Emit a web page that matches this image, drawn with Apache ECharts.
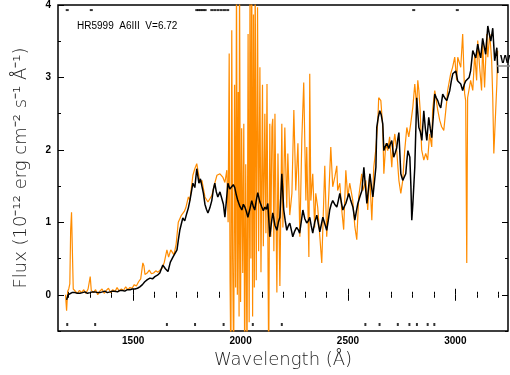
<!DOCTYPE html>
<html>
<head>
<meta charset="utf-8">
<script src="https://cdn.jsdelivr.net/npm/echarts/dist/echarts.min.js"></script>
<style>
html, body { margin: 0; padding: 0; background: #fff; }
#main { width: 510px; height: 375px; }
</style>
</head>
<body>
<div id="main"></div>
<script>
// black spectrum (wavelength in Angstrom, flux in 1e-12 erg/cm2/s/A)
var blackWave = [1190,1197,1205,1215,1229,1240,1252,1264,1275,1287,1299,1310,1322,1334,1345,1357,1368,1380,1392,1403,
  1415,1427,1438,1450,1461,1473,1485,1496,1508,1520,1531,1543,1554,1566,1578,1590,1601,1613,1624,1638,
  1650,1662,1673,1685,1694,1704,1710,1717,1731,1740,1750,1757,1764,1771,1778,1787,1796,1806,1813,1820,
  1827,1834,1841,1848,1857,1866,1873,1880,1887,1894,1904,1913,1920,1927,1934,1941,1950,1959,1966,1973,
  1980,1987,1997,2006,2013,2020,2027,2034,2043,2052,2059,2066,2073,2080,2090,2099,2106,2113,2120,2127,
  2136,2143,2150,2160,2169,2176,2183,2192,2201,2208,2215,2222,2229,2236,2243,2252,2261,2268,2275,2282,
  2290,2299,2308,2315,2322,2329,2336,2345,2355,2362,2369,2376,2383,2392,2401,2408,2415,2422,2429,2438,
  2448,2455,2462,2469,2476,2483,2490,2497,2504,2513,2523,2532,2539,2546,2555,2565,2574,2581,2588,2595,
  2602,2609,2616,2623,2630,2634,2641,2648,2655,2662,2667,2674,2681,2690,2697,2704,2713,2720,2727,2732,
  2737,2746,2755,2762,2769,2774,2779,2788,2793,2797,2802,2811,2820,2830,2837,2844,2853,2860,2867,2876,
  2883,2890,2897,2904,2911,2918,2925,2932,2941,2950,2960,2967,2974,2981,2988,2995,3002,3011,3018,3025,
  3034,3041,3048,3057,3064,3071,3081,3088,3095,3104,3111,3118,3127,3134,3141,3151,3158,3165,3174,3183,
  3193,3198];
var blackFlux = [-0.07,0.0,0.02,0.03,0.03,0.02,0.02,0.03,0.04,0.02,0.03,0.04,0.04,0.03,0.03,0.04,0.05,0.03,0.04,0.05,
  0.05,0.04,0.06,0.06,0.05,0.07,0.07,0.08,0.08,0.09,0.11,0.14,0.18,0.21,0.23,0.22,0.25,0.27,0.30,0.41,
  0.36,0.32,0.45,0.52,0.50,0.62,0.75,0.89,1.06,1.02,1.13,1.20,1.30,1.28,1.54,1.48,1.74,1.54,1.60,1.62,
  1.40,1.25,1.18,1.13,1.20,1.30,1.45,1.54,1.42,1.35,1.42,1.40,1.25,1.07,1.30,1.54,1.46,1.44,1.52,1.48,
  1.38,1.30,1.22,1.17,1.25,1.21,1.15,1.07,1.18,1.30,1.22,1.17,1.30,1.41,1.28,1.21,1.16,1.21,1.18,1.26,
  0.80,0.98,1.13,0.96,0.89,1.00,1.07,1.67,1.17,1.02,0.89,0.95,0.99,0.90,0.80,0.88,0.93,0.90,0.85,1.00,
  1.17,1.05,0.99,1.02,1.07,0.95,0.85,1.00,1.10,0.98,0.87,0.97,1.07,0.98,0.89,1.02,1.17,1.25,1.30,1.25,
  1.21,1.30,1.40,1.28,1.17,1.22,1.26,1.33,1.40,1.30,1.21,1.03,1.15,1.26,1.35,1.44,1.76,1.50,1.26,1.45,
  1.67,1.50,1.35,1.55,1.76,2.31,2.45,2.54,2.48,2.36,1.99,2.05,2.09,2.02,2.08,2.13,1.90,1.96,2.03,2.15,
  2.24,1.67,1.58,1.60,1.67,1.85,1.99,1.90,1.50,1.03,1.25,1.76,2.72,2.31,2.25,2.13,2.54,2.30,2.13,2.45,
  2.30,2.17,2.45,2.77,2.72,2.68,2.62,2.58,2.77,2.72,2.68,2.75,2.82,2.95,3.05,3.07,3.09,2.95,2.93,2.91,
  2.82,2.90,2.95,2.93,3.00,3.09,3.37,3.32,3.27,3.46,3.35,3.27,3.54,3.43,3.32,3.71,3.60,3.50,3.68,3.23,
  3.41,3.06];

// orange spectrum
var orangeWave = [1185,1190,1195,1200,1205,1209,1213,1217,1221,1230,1240,1250,1260,1270,1280,1290,1300,1305,1315,1325,
  1335,1345,1355,1365,1375,1385,1395,1405,1415,1425,1435,1445,1455,1465,1475,1485,1495,1505,1515,1525,
  1535,1545,1550,1555,1565,1575,1585,1595,1605,1615,1625,1635,1645,1657,1665,1675,1690,1700,1710,1725,
  1738,1745,1757,1764,1778,1787,1796,1811,1820,1834,1848,1857,1866,1880,1890,1904,1918,1927,1936,1942,
  1947,1951,1955,1959,1963,1968,1972,1977,1981,1985,1989,1993,1995,2000,2005,2010,2015,2019,2024,2030,
  2035,2040,2044,2048,2052,2056,2060,2064,2068,2073,2079,2084,2090,2095,2102,2106,2113,2118,2123,2128,
  2131,2136,2141,2146,2150,2155,2160,2169,2174,2183,2192,2197,2206,2215,2220,2229,2239,2248,2257,2267,
  2276,2285,2294,2304,2308,2318,2322,2327,2336,2345,2350,2359,2369,2378,2387,2392,2401,2411,2420,2429,
  2439,2448,2452,2462,2471,2480,2490,2499,2508,2522,2532,2541,2550,2564,2569,2583,2592,2601,2611,2620,
  2629,2639,2643,2653,2662,2667,2676,2685,2694,2704,2708,2718,2727,2737,2746,2755,2764,2774,2783,2792,
  2802,2811,2820,2825,2830,2836,2843,2853,2862,2871,2880,2890,2894,2904,2918,2927,2936,2946,2960,2964,
  2978,2987,2997,3006,3011,3025,3034,3039,3043,3048,3053,3057,3071,3081,3090,3099,3104,3113,3122,3127,
  3136,3146,3151,3160,3169,3174,3179,3183,3193,3197];
var orangeFlux = [0.0,-0.22,0.05,0.08,0.15,0.9,1.14,0.6,0.08,0.1,0.02,0.06,0.03,0.07,0.02,0.08,0.25,0.06,0.03,0.07,
  0.0,0.05,0.08,0.02,0.06,0.09,0.03,0.07,0.04,0.1,0.05,0.08,0.06,0.11,0.07,0.1,0.09,0.14,0.12,0.18,
  0.22,0.44,0.40,0.28,0.30,0.34,0.29,0.30,0.33,0.31,0.34,0.37,0.45,0.62,0.52,0.62,0.55,0.70,1.0,1.10,
  1.15,1.2,1.35,1.30,1.65,1.74,1.81,1.55,1.58,1.35,1.28,1.30,1.37,1.54,1.65,1.67,1.62,1.55,1.72,1.0,
  3.33,0.2,-1.0,3.65,0.5,-1.0,2.9,0.1,4.5,0.0,2.8,-0.3,4.5,-0.1,2.3,0.3,2.36,-1.0,1.8,-1.0,
  3.6,-0.38,4.5,0.5,4.5,-0.3,3.87,0.1,4.5,0.2,3.97,0.6,3.14,0.31,2.9,0.67,2.5,0.85,2.91,0.3,
  -1.0,2.36,0.8,2.32,2.43,0.6,2.5,0.03,1.95,0.12,2.36,0.93,2.31,1.2,1.95,1.1,1.4,2.55,1.44,2.09,
  0.8,2.13,2.93,1.3,2.04,0.52,3.05,1.3,1.67,0.93,1.4,1.21,0.8,0.44,1.30,1.78,0.80,1.40,2.04,1.49,
  1.63,1.78,1.44,1.54,1.17,0.90,1.72,1.35,1.54,1.31,0.94,0.76,1.35,1.67,1.44,1.58,1.17,1.67,1.03,1.76,
  1.99,2.40,2.72,2.68,2.31,1.67,2.09,1.99,2.18,1.76,1.99,2.22,1.99,1.58,1.40,1.58,1.99,2.31,2.18,2.36,
  2.59,2.91,2.59,2.96,2.82,2.55,2.0,1.86,1.95,1.86,2.22,2.04,2.55,2.82,2.55,2.41,2.32,2.27,2.68,2.82,
  3.05,3.14,3.28,2.96,3.28,3.14,3.60,3.60,2.78,2.68,0.44,2.72,2.96,2.82,3.32,2.96,3.51,3.14,2.82,3.46,
  2.86,3.60,3.28,3.60,3.23,2.72,1.95,2.22,2.91,3.37];

// flagged pixels drawn as small marks along the bottom and top
var flagBottomWave = [1193,1323,1657,1788,1921,2057,2192,2581,2647,2732,2786,2821,2871,2902];
var flagTopWave = [1193,1305,1796,1805,1815,1825,1835,1866,1880,1895,1910,1925,1940,2806,3009];

// tick values
var xMajor = [1500, 2000, 2500, 3000];
var xMinor = [1200,1300,1400,1600,1700,1800,1900,2100,2200,2300,2400,2600,2700,2800,2900,3100,3200];
var yMajor = [0, 1, 2, 3, 4];
var yMinor = [-0.5, 0.5, 1.5, 2.5, 3.5];

function zip(a, b) {
  var out = [];
  for (var i = 0; i < a.length; i++) out.push([a[i], b[i]]);
  return out;
}

var div = document.getElementById('main');
var myChart = echarts.init(div);

var tickFont = { fontFamily: 'Liberation Sans', fontWeight: 'bold', fontSize: 10, color: '#000' };
var nameFont = { fontFamily: 'DejaVu Sans', fontWeight: 200, fontSize: 18, color: '#222' };

function xAx(pos, ticks, len, labels) {
  return {
    type: 'value', min: 1150, max: 3245, position: pos,
    axisLine: { show: false }, splitLine: { show: false },
    axisTick: { inside: true, length: len, customValues: ticks, lineStyle: { color: '#000', width: 1 } },
    axisLabel: labels ? Object.assign({
      customValues: ticks, margin: 5,
      formatter: function (v) { return String(v); }
    }, tickFont) : { show: false }
  };
}
function yAx(pos, ticks, len, labels) {
  return {
    type: 'value', min: -0.5, max: 4, position: pos,
    axisLine: { show: false }, splitLine: { show: false },
    axisTick: { inside: true, length: len, customValues: ticks, lineStyle: { color: '#000', width: 1 } },
    axisLabel: labels ? Object.assign({ customValues: ticks, margin: 7 }, tickFont) : { show: false }
  };
}

var xMain = xAx('bottom', xMajor, 6, true);
xMain.name = 'Wavelength (Å)';
xMain.nameLocation = 'middle';
xMain.nameGap = 15;
xMain.nameTextStyle = nameFont;

var yMain = yAx('left', yMajor, 6, true);
yMain.name = 'Flux (10⁻¹² erg cm⁻² s⁻¹ Å⁻¹)';
yMain.nameLocation = 'middle';
yMain.nameGap = 28;
yMain.nameTextStyle = nameFont;

var option = {
  animation: false,
  title: {
    text: 'HR5999  A6III  V=6.72',
    left: 72, top: 16,
    textStyle: { fontFamily: 'Liberation Sans', fontWeight: 'normal', fontSize: 10, color: '#000' }
  },
  grid: { left: 58, right: 2, top: 4, bottom: 44, show: true, borderColor: '#000', borderWidth: 1.5 },
  xAxis: [xMain, xAx('bottom', xMinor, 3, false), xAx('top', xMajor, 6, false), xAx('top', xMinor, 3, false)],
  yAxis: [yMain, yAx('left', yMinor, 3, false), yAx('right', yMajor, 6, false), yAx('right', yMinor, 3, false)],
  series: [
    {
      name: 'orange', type: 'line', data: zip(orangeWave, orangeFlux),
      showSymbol: false, clip: true,
      lineStyle: { color: '#ff8c00', width: 1.2 }
    },
    {
      name: 'black', type: 'line', data: zip(blackWave, blackFlux),
      showSymbol: false, clip: true,
      lineStyle: { color: '#000', width: 1.5 }
    },
    {
      name: 'flags bottom', type: 'scatter', symbol: 'rect', symbolSize: [2, 3],
      data: flagBottomWave.map(function (w) { return [w, -0.41]; }),
      itemStyle: { color: '#000' }, silent: true
    },
    {
      name: 'flags top', type: 'scatter', symbol: 'rect', symbolSize: [3, 2],
      data: flagTopWave.map(function (w) { return [w, 3.93]; }),
      itemStyle: { color: '#000' }, silent: true
    }
  ],
  graphic: {
    elements: [
      {
        type: 'text', x: 500, y: 54, z: 100,
        style: { text: 'W', fill: '#000', font: 'bold 11px sans-serif', textAlign: 'left', textVerticalAlign: 'top' }
      },
      { type: 'line', z: 100, shape: { x1: 497, y1: 66, x2: 510, y2: 66 }, style: { stroke: '#888', lineWidth: 1.5 } }
    ]
  }
};

myChart.setOption(option);
</script>
</body>
</html>
